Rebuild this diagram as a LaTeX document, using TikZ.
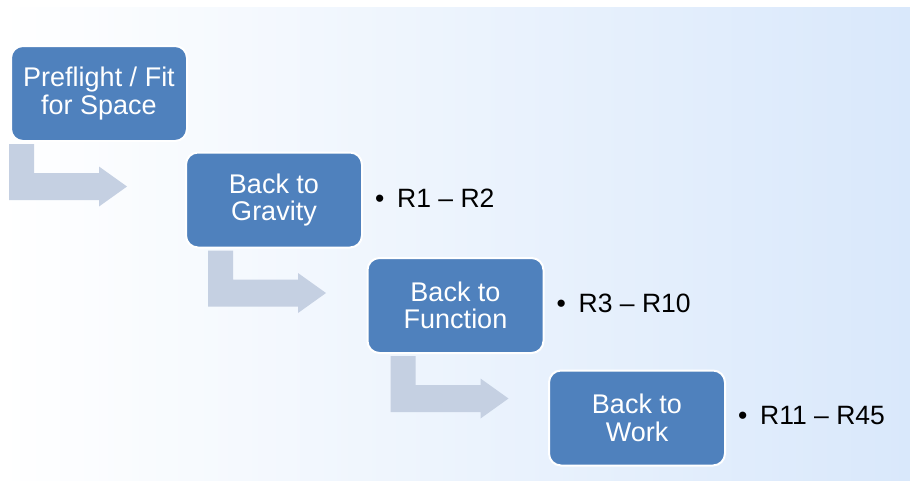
\documentclass[tikz,border=0pt]{standalone}
\usepackage{fontspec}
\setmainfont{Liberation Sans}
\usepackage{tikz}
\usetikzlibrary{calc}
\usepackage{xcolor}
\definecolor{stepblue}{RGB}{79,129,189}
\definecolor{bendgrey}{RGB}{197,208,226}
\definecolor{bgblue}{RGB}{217,232,251}

\begin{document}
\begin{tikzpicture}[x=1pt, y=-1pt,
    phase/.style={rectangle, rounded corners=12pt, fill=stepblue, draw=white, line width=2pt,
        minimum width=176pt, minimum height=95pt, inner sep=0pt, text=white, align=center,
        font=\fontsize{27}{27.5}\selectfont},
    rangelabel/.style={anchor=west, inner sep=0pt, font=\fontsize{26.5}{27}\selectfont},
    bentarrow/.style={fill=bendgrey}]
    \useasboundingbox (0,0) rectangle (910,480);
    \fill[left color=white, right color=bgblue] (0,7) rectangle (910,480);

    \node[phase] (pre)  at (99,93.5)  {Preflight / Fit\\for Space};
    \node[phase] (grav) at (274,200)  {Back to\\Gravity};
    \node[phase] (func) at (455.5,305.5) {Back to\\Function};
    \node[phase] (work) at (637,418)  {Back to\\Work};

    % bent arrows below each box
    \foreach \a/\dx in {pre/0, grav/24, func/25}
        \fill[bentarrow] ($(\a.south west)+(\dx-1,2)$) -- ++(0,56) -- ++(90,0) -- ++(0,6.5)
            -- ++(28,-20) -- ++(-28,-20) -- ++(0,6.5) -- ++(-65,0) -- ++(0,-29) -- cycle;

    \node[rangelabel] (r1) at ([xshift=12pt, yshift=2pt]grav.east) {\makebox[22pt][l]{•}R1 – R2};
    \node[rangelabel] (r2) at ([xshift=12pt, yshift=2pt]func.east) {\makebox[22pt][l]{•}R3 – R10};
    \node[rangelabel] (r3) at ([xshift=12pt, yshift=2pt]work.east) {\makebox[22pt][l]{•}R11 – R45};
\end{tikzpicture}
\end{document}
